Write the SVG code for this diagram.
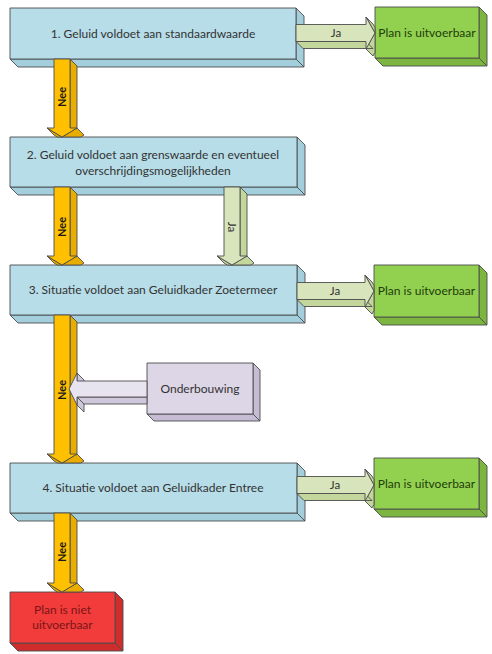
<svg xmlns="http://www.w3.org/2000/svg" width="492" height="654" viewBox="0 0 492 654">
<style>
text{font-family:Lato,"Liberation Sans",sans-serif;font-size:12px;text-anchor:middle}
.edge{stroke:#4d4d4d;stroke-width:0.9;stroke-linejoin:round}
.bf{fill:#b7dde8}.bs{fill:#a3cedb}
.gf{fill:#92d050}.gs{fill:#7cb53f}
.rf{fill:#f23b3b}.rs{fill:#cf2c2c}
.lf{fill:#dcd6e6}.ls{fill:#c6bdd5}
.yf{fill:#ffc000}.ys{fill:#e9ad00}
.jf{fill:#d8e4bc}.js{fill:#c3d69b}
.of{fill:#e8e4ef}.os{fill:#cfc7dc}
.tb{fill:#333333}.tg{fill:#1f3d0c}.tr{fill:#7a1616}
.nee{font-size:11px;font-weight:bold;fill:#1a1a1a}
.ja{font-size:11.5px;fill:#333333}
</style>
<g id="nodes">
<g id="box1">
<polygon class="bs edge" points="296,8 304,16 304,67 296,59"/>
<polygon class="bs edge" points="10,59 296,59 304,67 18,67"/>
<rect class="bf edge" x="10" y="8" width="286" height="51"/>
<text class="tb" x="153" y="37.5">1. Geluid voldoet aan standaardwaarde</text>
</g>
<g id="green1">
<polygon class="gs edge" points="479,7 487,15 487,66 479,58"/>
<polygon class="gs edge" points="375,58 479,58 487,66 383,66"/>
<rect class="gf edge" x="375" y="7" width="104" height="51"/>
<text class="tg" x="427" y="37">Plan is uitvoerbaar</text>
</g>
<g id="box2">
<polygon class="bs edge" points="297,137 305,145 305,195 297,187"/>
<polygon class="bs edge" points="10,187 297,187 305,195 18,195"/>
<rect class="bf edge" x="10" y="137" width="287" height="50"/>
<text class="tb" x="153" y="159">2. Geluid voldoet aan grenswaarde en eventueel</text>
<text class="tb" x="153" y="175">overschrijdingsmogelijkheden</text>
</g>
<g id="box3">
<polygon class="bs edge" points="297,265 305,273 305,323 297,315"/>
<polygon class="bs edge" points="10,315 297,315 305,323 18,323"/>
<rect class="bf edge" x="10" y="265" width="287" height="50"/>
<text class="tb" x="153" y="294">3. Situatie voldoet aan Geluidkader Zoetermeer</text>
</g>
<g id="green2">
<polygon class="gs edge" points="479,265 487,273 487,325 479,317"/>
<polygon class="gs edge" points="374,317 479,317 487,325 382,325"/>
<rect class="gf edge" x="374" y="265" width="105" height="52"/>
<text class="tg" x="426.5" y="295">Plan is uitvoerbaar</text>
</g>
<g id="onderbouwing">
<polygon class="ls edge" points="253,363 260,370 260,421 253,414"/>
<polygon class="ls edge" points="147,414 253,414 260,421 154,421"/>
<rect class="lf edge" x="147" y="363" width="106" height="51"/>
<text class="tb" x="200" y="393">Onderbouwing</text>
</g>
<g id="box4">
<polygon class="bs edge" points="297,463 305,471 305,521 297,513"/>
<polygon class="bs edge" points="10,513 297,513 305,521 18,521"/>
<rect class="bf edge" x="10" y="463" width="287" height="50"/>
<text class="tb" x="153" y="492">4. Situatie voldoet aan Geluidkader Entree</text>
</g>
<g id="green3">
<polygon class="gs edge" points="479,458 487,466 487,517 479,509"/>
<polygon class="gs edge" points="374,509 479,509 487,517 382,517"/>
<rect class="gf edge" x="374" y="458" width="105" height="51"/>
<text class="tg" x="426.5" y="488">Plan is uitvoerbaar</text>
</g>
<g id="red">
<polygon class="rs edge" points="115,592 123,600 123,651 115,643"/>
<polygon class="rs edge" points="10,643 115,643 123,651 18,651"/>
<rect class="rf edge" x="10" y="592" width="105" height="51"/>
<text class="tr" x="62.5" y="614">Plan is niet</text>
<text class="tr" x="62.5" y="629">uitvoerbaar</text>
</g>
</g>
<g id="connectors">
<g id="nee1">
<polygon class="ys edge" points="70,59 77,66 77,135 70,128"/>
<polygon class="ys edge" points="77,128 62,137 80.7,137 84,135"/>
<polygon class="ys edge" points="62,137 47,128 54,135 57.3,137"/>
<polygon class="yf edge" points="54,59 70,59 70,128 77,128 62,137 47,128 54,128"/>
<text class="nee" transform="translate(66,97) rotate(-90)">Nee</text>
</g>
<g id="ja1">
<polygon class="js edge" points="366,17 375,33 375,27.6 373,24"/>
<polygon class="js edge" points="375,33 366,49 373,56 375,52.4"/>
<polygon class="js edge" points="366,41.5 296,41.5 303,48.5 373,48.5"/>
<polygon class="jf edge" points="296,24.5 366,24.5 366,17 375,33 366,49 366,41.5 296,41.5"/>
<text class="ja" x="336" y="37">Ja</text>
</g>
<g id="nee2">
<polygon class="ys edge" points="70,187 77,194 77,263 70,256"/>
<polygon class="ys edge" points="77,256 62,265 80.7,265 84,263"/>
<polygon class="ys edge" points="62,265 47,256 54,263 57.3,265"/>
<polygon class="yf edge" points="54,187 70,187 70,256 77,256 62,265 47,256 54,256"/>
<text class="nee" transform="translate(66,227) rotate(-90)">Nee</text>
</g>
<g id="ja2">
<polygon class="js edge" points="240,187 247,194 247,263 240,256"/>
<polygon class="js edge" points="247,256 232,265 250.7,265 254,263"/>
<polygon class="js edge" points="232,265 217,256 224,263 227.3,265"/>
<polygon class="jf edge" points="224,187 240,187 240,256 247,256 232,265 217,256 224,256"/>
<text class="ja" transform="translate(228,227) rotate(90)">Ja</text>
</g>
<g id="ja3">
<polygon class="js edge" points="365,275 374,291 374,285.6 372,282"/>
<polygon class="js edge" points="374,291 365,307 372,314 374,310.4"/>
<polygon class="js edge" points="365,299.5 297,299.5 304,306.5 372,306.5"/>
<polygon class="jf edge" points="297,282.5 365,282.5 365,275 374,291 365,307 365,299.5 297,299.5"/>
<text class="ja" x="335" y="295">Ja</text>
</g>
<g id="nee3">
<polygon class="ys edge" points="70,315 77,322 77,461 70,454"/>
<polygon class="ys edge" points="77,454 62,463 80.7,463 84,461"/>
<polygon class="ys edge" points="62,463 47,454 54,461 57.3,463"/>
<polygon class="yf edge" points="54,315 70,315 70,454 77,454 62,463 47,454 54,454"/>
<text class="nee" transform="translate(66,390) rotate(-90)">Nee</text>
</g>
<g id="onderbouwing-arrow">
<polygon class="os edge" points="147,397 77,397 84,404 147,404"/>
<polygon class="os edge" points="77,397 77,405 84,412 84,404"/>
<polygon class="os edge" points="77,373 77,381 84,388 84,380"/>
<polygon class="of edge" points="77,381 147,381 147,397 77,397 77,405 69,389 77,373"/>
</g>
<g id="ja4">
<polygon class="js edge" points="365,469 374,485 374,479.6 372,476"/>
<polygon class="js edge" points="374,485 365,501 372,508 374,504.4"/>
<polygon class="js edge" points="365,493.5 297,493.5 304,500.5 372,500.5"/>
<polygon class="jf edge" points="297,476.5 365,476.5 365,469 374,485 365,501 365,493.5 297,493.5"/>
<text class="ja" x="335" y="489">Ja</text>
</g>
<g id="nee4">
<polygon class="ys edge" points="70,513 77,520 77,590 70,583"/>
<polygon class="ys edge" points="77,583 62,592 80.7,592 84,590"/>
<polygon class="ys edge" points="62,592 47,583 54,590 57.3,592"/>
<polygon class="yf edge" points="54,513 70,513 70,583 77,583 62,592 47,583 54,583"/>
<text class="nee" transform="translate(66,552) rotate(-90)">Nee</text>
</g>
</g>
</svg>
